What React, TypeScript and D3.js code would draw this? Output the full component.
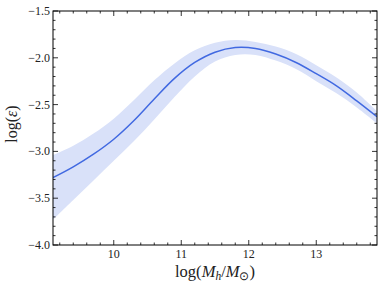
import React, { useEffect, useRef } from "react";
import * as d3 from "d3";

// log halo mass grid
const logMh = [9.1, 9.4, 9.7, 10.0, 10.3, 10.6, 10.9, 11.2, 11.5, 11.8, 12.1, 12.4, 12.7, 13.0, 13.3, 13.6, 13.9];
// median log efficiency
const logEps = [-3.28, -3.165, -3.03, -2.87, -2.67, -2.44, -2.22, -2.05, -1.94, -1.89, -1.90, -1.96, -2.05, -2.17, -2.30, -2.46, -2.63];
// band upper / lower
const epsHi = [-3.04, -2.94, -2.81, -2.65, -2.45, -2.24, -2.06, -1.92, -1.84, -1.81, -1.83, -1.88, -1.96, -2.08, -2.21, -2.37, -2.57];
const epsLo = [-3.73, -3.52, -3.31, -3.10, -2.89, -2.66, -2.42, -2.20, -2.04, -1.97, -1.97, -2.03, -2.12, -2.25, -2.38, -2.53, -2.70];

const xTicks = [10, 11, 12, 13];
const yTicks = [-4.0, -3.5, -3.0, -2.5, -2.0, -1.5];

function App() {
    const svgRef = useRef(null);

    useEffect(() => {
        const left = 53, right = 377, top = 11, bottom = 245;
        const svg = d3.select(svgRef.current);
        svg.selectAll("*").remove();

        const x = d3.scaleLinear().domain([9.1, 13.9]).range([left, right]);
        const y = d3.scaleLinear().domain([-4.0, -1.5]).range([bottom, top]);

        const pts = logMh.map((m, i) => ({ m, c: logEps[i], hi: epsHi[i], lo: epsLo[i] }));

        const area = d3.area()
            .x(d => x(d.m))
            .y0(d => y(d.lo))
            .y1(d => y(d.hi))
            .curve(d3.curveCatmullRom.alpha(0.5));

        const line = d3.line()
            .x(d => x(d.m))
            .y(d => y(d.c))
            .curve(d3.curveCatmullRom.alpha(0.5));

        svg.append("defs").append("clipPath").attr("id", "clip")
            .append("rect").attr("x", left).attr("y", top)
            .attr("width", right - left).attr("height", bottom - top);

        const g = svg.append("g").attr("clip-path", "url(#clip)");
        g.append("path").datum(pts)
            .attr("d", area)
            .attr("fill", "#d9e1f9");
        g.append("path").datum(pts)
            .attr("d", line)
            .attr("fill", "none")
            .attr("stroke", "#4169e1")
            .attr("stroke-width", 1.5);

        // ticks inward, all four sides
        const font = "'Liberation Serif', 'Times New Roman', serif";
        const xMinor = d3.range(9.2, 13.9, 0.2).map(v => +v.toFixed(1));
        const yMinor = d3.range(-4.0, -1.45, 0.1).map(v => +v.toFixed(1));

        const tk = svg.append("g").attr("stroke", "#000").attr("stroke-width", 0.8);
        xMinor.forEach(v => {
            const major = xTicks.includes(v);
            const len = major ? 5 : 2.5;
            tk.append("line").attr("x1", x(v)).attr("x2", x(v)).attr("y1", bottom).attr("y2", bottom - len);
            tk.append("line").attr("x1", x(v)).attr("x2", x(v)).attr("y1", top).attr("y2", top + len);
        });
        yMinor.forEach(v => {
            const major = yTicks.some(t => Math.abs(t - v) < 1e-6);
            const len = major ? 5 : 2.5;
            tk.append("line").attr("x1", left).attr("x2", left + len).attr("y1", y(v)).attr("y2", y(v));
            tk.append("line").attr("x1", right).attr("x2", right - len).attr("y1", y(v)).attr("y2", y(v));
        });

        svg.append("rect")
            .attr("x", left).attr("y", top)
            .attr("width", right - left).attr("height", bottom - top)
            .attr("fill", "none").attr("stroke", "#000").attr("stroke-width", 1);

        svg.append("g").selectAll("text").data(xTicks).enter().append("text")
            .attr("x", d => x(d)).attr("y", 258)
            .attr("text-anchor", "middle")
            .attr("font-family", font).attr("font-size", 12)
            .attr("fill", "#222")
            .text(d => d);

        svg.append("g").selectAll("text").data(yTicks).enter().append("text")
            .attr("x", 50).attr("y", d => y(d) + 4)
            .attr("text-anchor", "end")
            .attr("font-family", font).attr("font-size", 12)
            .attr("fill", "#222")
            .text(d => "\u2212" + Math.abs(d).toFixed(1));

        const xl = svg.append("text")
            .attr("x", 215).attr("y", 277)
            .attr("text-anchor", "middle")
            .attr("font-family", font).attr("font-size", 16.5)
            .attr("fill", "#222");
        xl.append("tspan").text("log(");
        xl.append("tspan").attr("font-style", "italic").text("M");
        xl.append("tspan").attr("font-style", "italic").attr("font-size", 11.5).attr("dy", 3).text("h");
        xl.append("tspan").attr("dy", -3).text("/");
        xl.append("tspan").attr("font-style", "italic").text("M");
        xl.append("tspan").attr("font-size", 11.5).attr("dy", 3).text("\u2299");
        xl.append("tspan").attr("dy", -3).text(")");

        const yl = svg.append("text")
            .attr("transform", `translate(17, ${(top + bottom) / 2 - 4}) rotate(-90)`)
            .attr("text-anchor", "middle")
            .attr("font-family", font).attr("font-size", 16)
            .attr("fill", "#222");
        yl.append("tspan").text("log(");
        yl.append("tspan").attr("font-style", "italic").text("\u03b5");
        yl.append("tspan").text(")");
    }, []);

    return (
        <div style={{ position: "absolute", left: 0, top: 0 }}>
            <svg ref={svgRef} width={382} height={285} style={{ display: "block" }} />
        </div>
    );
}

export default App;
